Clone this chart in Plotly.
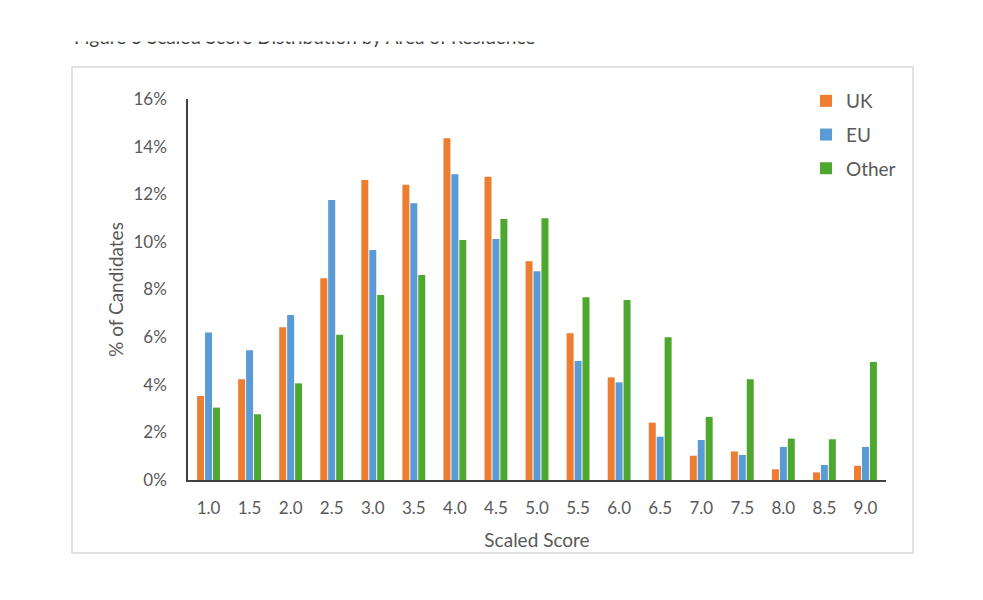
import plotly.graph_objects as go

categories = ["1.0", "1.5", "2.0", "2.5", "3.0", "3.5", "4.0", "4.5", "5.0",
              "5.5", "6.0", "6.5", "7.0", "7.5", "8.0", "8.5", "9.0"]
uk = [3.53, 4.23, 6.41, 8.47, 12.60, 12.40, 14.35, 12.74, 9.19,
      6.16, 4.31, 2.41, 1.02, 1.20, 0.45, 0.32, 0.60]
eu = [6.19, 5.45, 6.93, 11.76, 9.66, 11.62, 12.84, 10.12, 8.77,
      5.00, 4.10, 1.82, 1.68, 1.05, 1.39, 0.63, 1.39]
other = [3.04, 2.76, 4.06, 6.10, 7.77, 8.61, 10.08, 10.96, 10.99,
         7.67, 7.56, 6.00, 2.65, 4.23, 1.74, 1.71, 4.96]
series_names = ["UK", "EU", "Other"]
series_colors = ["#ED7D31", "#5B9BD5", "#4EA72E"]
y_ticks = [0, 2, 4, 6, 8, 10, 12, 14, 16]
y_tick_labels = [f"{v}%" for v in y_ticks]
title_text = "Figure 5 Scaled Score Distribution by Area of Residence"

FONT = "Lato"
GRAY = "#595959"

OFF = 8  # page body margin
W, H = 983, 600
L, R, T, B = 188 - OFF, 983 - (886 - OFF), 99 - OFF, 600 - (480 - OFF)
pw, ph = W - L - R, H - T - B


def px2x(px):
    return (px - OFF - L) / pw


def px2y(py):
    return (H - B - (py - OFF)) / ph


fig = go.Figure()
for name, vals, col in zip(series_names, [uk, eu, other], series_colors):
    fig.add_trace(go.Bar(x=categories, y=vals, name=name, legendgroup=name,
                         marker=dict(color=col, line=dict(width=0))))

fig.update_layout(
    width=W, height=H,
    margin=dict(l=L, r=R, t=T, b=B, autoexpand=False),
    paper_bgcolor="white", plot_bgcolor="white",
    barmode="group", bargap=0.42, bargroupgap=0.12,
    font=dict(family=FONT, size=17, color=GRAY),
    legend=dict(x=px2x(806), y=px2y(82), xanchor="left", yanchor="top",
                font=dict(family=FONT, size=19, color=GRAY),
                tracegroupgap=6, itemwidth=30, bgcolor="rgba(0,0,0,0)"),
    xaxis=dict(showline=True, linecolor="#404040", linewidth=1.5,
               showgrid=False, ticks="", ticklabelstandoff=12,
               tickfont=dict(family=FONT, size=17, color=GRAY),
               title=dict(text="Scaled Score", standoff=17,
                          font=dict(family=FONT, size=19, color=GRAY)),
               automargin=False),
    yaxis=dict(range=[0, 16], tickvals=y_ticks, ticktext=y_tick_labels,
               showline=True, linecolor="#404040", linewidth=1.5,
               showgrid=False, zeroline=False, ticks="", ticklabelstandoff=16,
               tickfont=dict(family=FONT, size=17, color=GRAY),
               title=dict(text="% of Candidates", standoff=5,
                          font=dict(family=FONT, size=19, color=GRAY)),
               automargin=False),
    shapes=[dict(type="rect", xref="paper", yref="paper",
                 x0=px2x(72), x1=px2x(913), y0=px2y(553), y1=px2y(67),
                 line=dict(color="#D9D9D9", width=1.5), layer="below")],
    annotations=[
        dict(text=title_text, xref="paper", yref="paper",
             x=px2x(72), y=px2y(50), xanchor="left", yanchor="bottom",
             showarrow=False, font=dict(family=FONT, size=19, color="#404040")),
        dict(text=" ", xref="paper", yref="paper", x=px2x(0), y=px2y(0),
             xanchor="left", yanchor="top", width=W, height=38,
             bgcolor="white", showarrow=False),
    ],
)

fig.write_html("out.html")
